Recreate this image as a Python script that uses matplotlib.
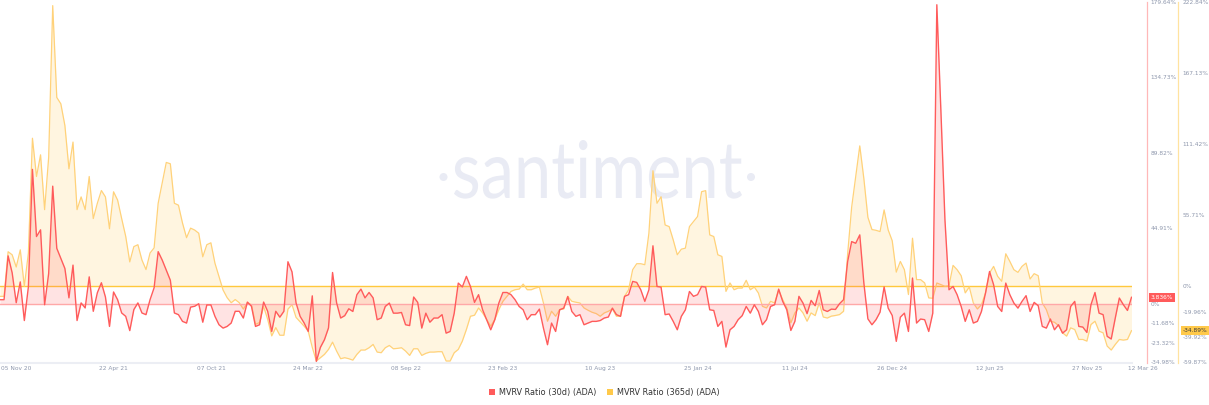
import numpy as np
import pandas as pd
import matplotlib
matplotlib.use('Agg')
import matplotlib.pyplot as plt
import matplotlib.transforms as mtransforms
import matplotlib.dates as mdates
from matplotlib.patches import Patch, PathPatch, Circle
from matplotlib.textpath import TextPath
from matplotlib.font_manager import FontProperties

# ---------------- data ----------------
start_date = '2020-10-08'

mvrv_30d = [
    2.4, 2.4, 28.5, 18.4, 0.6, 13, -10, 10, 80, 40,
    44, -0.6, 18, 70, 33, 27, 21, 3.5, 23, -10,
    0.5, -2.5, 16, -4.5, 6.5, 12.5, 4, -13.5, 7, 2.4,
    -5.5, -7.5, -16, -3.5, 0.5, -5.5, -6.5, 2.4, 9.5, 31,
    26, 20, 14, -5.5, -6.5, -10.5, -11.5, -2, -1.5, 0,
    -11, -0.7, -0.7, -7.5, -12.5, -14.5, -13.5, -11.5, -4.5, -4.5,
    -8.5, 1, -1.5, -13.5, -12.5, 1, -4.5, -16.5, -4.5, -8,
    -4.5, 25, 19, 0.5, -7.5, -11.5, -16.5, 4.7, -34.3, -26,
    -21.4, -14.4, 18.6, 0.5, -8.5, -7.1, -3, -4.6, 5.4, 8.7,
    3.5, 6.7, 3.5, -9.5, -8.5, -1.6, 0.4, -5.6, -5.6, -5.2,
    -12.5, -13, 4, 0.8, -14.5, -5.6, -11, -8.5, -8.5, -6.5,
    -17.5, -16.5, -5.6, 12.3, 10, 16.3, 10.3, 0.8, 5.4, -3.6,
    -9.5, -15.5, -9.5, 0.4, 6.7, 6.7, 5.4, 2.4, -1.6, -3.6,
    -9.5, -6.5, -6.5, -3.2, -14.5, -24.4, -11.5, -16.5, -3.6, -2.6,
    4.3, -4.6, -7.5, -6.5, -12.5, -11.5, -10.5, -10.5, -10, -8.5,
    -7.9, -2.6, -6.5, -7.5, 4.4, 5.4, 13.3, 12.7, 8.3, 1.4,
    8.3, 34.5, 10.3, 9.9, -6.5, -6.1, -10.5, -15.5, -7.5, -3.6,
    7.3, 4.4, 5.4, 10.3, 9.9, -3.6, -4, -13.5, -10.5, -25.8,
    -15.5, -13.5, -9.5, -7.1, -1.6, -5.6, -0.6, -4.6, -12.5, -9.5,
    -1.6, -0.6, 8.7, 1.4, -3.6, -15.9, -10.5, 4.4, 0.4, -5.9,
    2, -1.2, 7.9, -3.6, -4.6, -3.2, -3.4, 0, 2.4, 25,
    37, 36, 41, 12.5, -9, -12.5, -9.5, -5, 10, -2.6,
    -7, -22.4, -8, -5.6, -16.5, 15.3, -11.5, -9.1, -9.5, -16.5,
    -5.6, 178, 115, 50, 8.3, 10.3, 5.4, -1.6, -10.5, -3.6,
    -11.5, -10.5, -4.6, 6.3, 19.2, 11.3, -1.6, -4.6, 12.3, 5.4,
    0.4, -2.6, 1.4, 4.8, -4.6, 0.8, -1.2, -13.5, -14.5, -9.1,
    -15.5, -12.5, -17.5, -15.5, -1.6, 1.4, -13.5, -13.9, -17.1, -0.6,
    6.7, -5.6, -6.5, -19.4, -21, -8.5, 3.4, -0.6, -4, 3.836,
]

mvrv_365d = [
    -8, -8, 27, 24.6, 15, 28.5, 0, 26, 116, 86,
    103, 60, 101, 220, 148, 143, 126, 92, 113, 60,
    70, 60, 86, 53, 65, 75, 70, 45, 74, 67.5,
    53, 39, 19, 31, 32.5, 20.5, 13, 26, 30, 65,
    81, 97, 96, 65, 63.5, 49.5, 38, 45.5, 44, 41.5,
    23, 32.5, 34, 18, 7.5, -3, -9, -13, -10.5, -13,
    -18, -13, -14.5, -30, -28.5, -16, -26, -39, -32.5, -38.5,
    -38.5, -18, -14.5, -24.5, -28, -31.4, -35.3, -48, -58.7, -56.1,
    -53.5, -49.6, -43.9, -50.9, -56.9, -56.1, -56.9, -58, -53.5, -50.1,
    -50.1, -48.3, -45.7, -51.7, -52.2, -48.3, -46.5, -49.1, -48.8, -48.3,
    -50.9, -54.3, -49.1, -49.1, -54.3, -52.7, -51.7, -51.7, -51.4, -51.4,
    -58.7, -58.7, -52.2, -49.6, -43.1, -34, -23.6, -22.8, -17.1, -21,
    -26.2, -31.4, -26.2, -18.4, -11.9, -8, -4.1, -2.8, -2.3, 1.6,
    -2.8, -2.8, -1.5, -0.7, -13.2, -27.5, -19.7, -23.6, -18.4, -17.9,
    -8, -11.9, -12.6, -13.2, -17.1, -18.9, -20.5, -21.5, -23.6, -21,
    -19.7, -17.9, -23.6, -23.6, -8, -2.8, 12.9, 17.6, 17.6, 16.8,
    41.5, 90.5, 65, 70.1, 48, 46.7, 36.3, 24.6, 29, 29.8,
    46.7, 50.6, 54.6, 74.1, 74.9, 40.2, 38.9, 24.6, 23.3, -4.1,
    2.5, -2.8, -1.5, -1.5, 4.6, -2.8, -0.7, -5.4, -15.8, -17.1,
    -11.9, -13.2, -3.3, -10.6, -17.1, -28.8, -21, -17.1, -21, -27.5,
    -21, -23.1, -13.2, -24.2, -25, -23.5, -23, -22.3, -19.7, 25,
    62, 86, 110, 84.5, 54, 44.4, 43.8, 42.8, 59.8, 44.1,
    35.6, 11, 19.4, 12.9, -6.6, 37.6, 5.1, 5.1, 2.5, -9.2,
    -9.5, 2.5, 1.2, -0.1, 0.4, 16.3, 12.9, 8.2, -5.3, -0.6,
    -13.2, -17.9, -14.5, -5.3, 10.3, 15.5, 7.7, 3.8, 25.4, 19.4,
    12.9, 10.8, 15.5, 18.1, 5.6, 9.8, 8.2, -13.2, -18.4, -27.5,
    -28.3, -30.9, -36.6, -39.2, -32.7, -34, -41.8, -41.8, -43.1, -30.1,
    -27.5, -35.3, -36.6, -47, -50.1, -45.7, -41.8, -42.3, -41.8, -34.89,
]

red_ticks = [-34.98, -23.32, -11.68, 0, 44.91, 89.82, 134.73, 179.64]
yellow_ticks = [-59.87, -39.92, -19.96, 0, 55.71, 111.42, 167.13, 222.84]

x_tick_dates = ['2020-11-05', '2021-04-22', '2021-10-07', '2022-03-24',
                '2022-09-08', '2023-02-23', '2023-08-10', '2024-01-25',
                '2024-07-11', '2024-12-26', '2025-06-12', '2025-11-27']
x_tick_labels = ['05 Nov 20', '22 Apr 21', '07 Oct 21', '24 Mar 22',
                 '08 Sep 22', '23 Feb 23', '10 Aug 23', '25 Jan 24',
                 '11 Jul 24', '26 Dec 24', '12 Jun 25', '27 Nov 25']
end_label_date = '2026-03-12'
end_label = '12 Mar 26'

series_names = ['MVRV Ratio (30d) (ADA)', 'MVRV Ratio (365d) (ADA)']
watermark = 'santiment'

# ---------------- styling ----------------
RED = '#ff5b5b'
YEL = '#ffc94a'
TICK_C = '#8f98ad'
WM_C = '#e9ebf4'
W, H = 1209, 405

fig = plt.figure(figsize=(W / 100, H / 100), dpi=100)
plot_left, plot_right, plot_top, plot_bottom = 0, 1131.5, 2, 362.5
ax = fig.add_axes([plot_left / W, 1 - plot_bottom / H,
                   (plot_right - plot_left) / W, (plot_bottom - plot_top) / H])
ax2 = ax.twinx()

dates = pd.date_range(start_date, periods=len(mvrv_30d), freq='7D')

# watermark (behind data), condensed text path in pixel space
tp = TextPath((0, 0), watermark, size=100, prop=FontProperties(family='Lato'))
ext = tp.get_extents()
wm_x0, wm_x1, wm_base, wm_top = 454, 742, 198, 140
sx = (wm_x1 - wm_x0) / ext.width
sy = (wm_base - wm_top) / (ext.y1 - 0)
T = (mtransforms.Affine2D().translate(-ext.x0, 0).scale(sx, sy)
     .translate(wm_x0, H - wm_base))
ax.add_patch(PathPatch(tp, transform=T, fc=WM_C, ec='none', zorder=0.5))
for cx in (443.5, 751):
    ax.add_patch(Circle((cx, H - 177), 4.0, transform=mtransforms.IdentityTransform(),
                        fc=WM_C, ec='none', zorder=0.5))

# yellow (365d) on primary axis
ax.set_ylim(yellow_ticks[0], yellow_ticks[-1])
ax.fill_between(dates, mvrv_365d, 0, color=YEL, alpha=0.17, lw=0, zorder=1)
ax.axhline(0, color='#ffc83d', lw=1.0, zorder=2)
ax.plot(dates, mvrv_365d, color='#ffd27a', lw=0.9, zorder=3)

# red (30d) on twin axis
ax2.set_ylim(red_ticks[0], red_ticks[-1])
ax2.fill_between(dates, mvrv_30d, 0, color=RED, alpha=0.17, lw=0, zorder=1)
ax2.axhline(0, color='#ffa8a8', lw=1.0, zorder=2)
ax2.plot(dates, mvrv_30d, color=RED, lw=1.0, zorder=3)

ax.set_xlim(dates[0], dates[-1])

# spines
for a in (ax, ax2):
    a.spines['top'].set_visible(False)
    a.spines['left'].set_visible(False)
ax2.spines['bottom'].set_visible(False)
ax.spines['bottom'].set_color('#eceef4')
ax.spines['bottom'].set_linewidth(1.5)

ax.yaxis.tick_right()
ax.yaxis.set_label_position('right')
ax.spines['right'].set_position(('outward', (1178.3 - plot_right) * 0.72))
ax.spines['right'].set_color('#ffe3a0')
ax.spines['right'].set_linewidth(0.9)
ax2.spines['right'].set_position(('outward', (1146.7 - plot_right) * 0.72))
ax2.spines['right'].set_color('#ffb8b8')
ax2.spines['right'].set_linewidth(0.9)


def fmt(v):
    return '0%' if v == 0 else f'{v:.2f}%'


ax.set_yticks(yellow_ticks)
ax.set_yticklabels([fmt(v) for v in yellow_ticks])
ax2.set_yticks(red_ticks)
ax2.set_yticklabels([fmt(v) for v in red_ticks])
ax.tick_params(axis='y', length=0, pad=3.2, labelsize=4.2, labelcolor=TICK_C)
ax2.tick_params(axis='y', length=0, pad=2.9, labelsize=4.2, labelcolor=TICK_C)

ax.set_xticks(pd.to_datetime(x_tick_dates))
ax.set_xticklabels(x_tick_labels)
ax.tick_params(axis='x', length=0, pad=2.4, labelsize=4.2, labelcolor=TICK_C)

# final date label at right end
ax.annotate(end_label, xy=(mdates.date2num(pd.Timestamp(end_label_date)), 0),
            xycoords=mtransforms.blended_transform_factory(ax.transData, ax.transAxes),
            xytext=(-3.5, -2.4), textcoords='offset points', ha='center', va='top',
            fontsize=4.2, color=TICK_C, annotation_clip=False)

# last-value boxes
tr_r = mtransforms.blended_transform_factory(ax2.transAxes, ax2.transData)
ax2.text(1150.8 / plot_right, mvrv_30d[-1], f'{mvrv_30d[-1]:.3f}%', transform=tr_r,
         ha='left', va='center', fontsize=4.2, color='white', zorder=6, clip_on=False,
         bbox=dict(boxstyle='square,pad=0.3', fc=RED, ec='none'))
tr_y = mtransforms.blended_transform_factory(ax.transAxes, ax.transData)
ax.text(1182.5 / plot_right, mvrv_365d[-1], f'{mvrv_365d[-1]:.2f}%', transform=tr_y,
        ha='left', va='center', fontsize=4.2, color='#3a3a3a', zorder=6, clip_on=False,
        bbox=dict(boxstyle='square,pad=0.3', fc=YEL, ec='none'))

# legend
handles = [Patch(fc=RED, ec='none'), Patch(fc=YEL, ec='none')]
fig.legend(handles, series_names, loc='center', ncol=2, frameon=False,
           bbox_to_anchor=(604.5 / W, 1 - 392 / H), fontsize=5.9,
           handlelength=0.75, handleheight=0.75, handletextpad=0.5,
           columnspacing=1.3, labelcolor='#333333')

fig.savefig('out.png', dpi=100, facecolor='white')
